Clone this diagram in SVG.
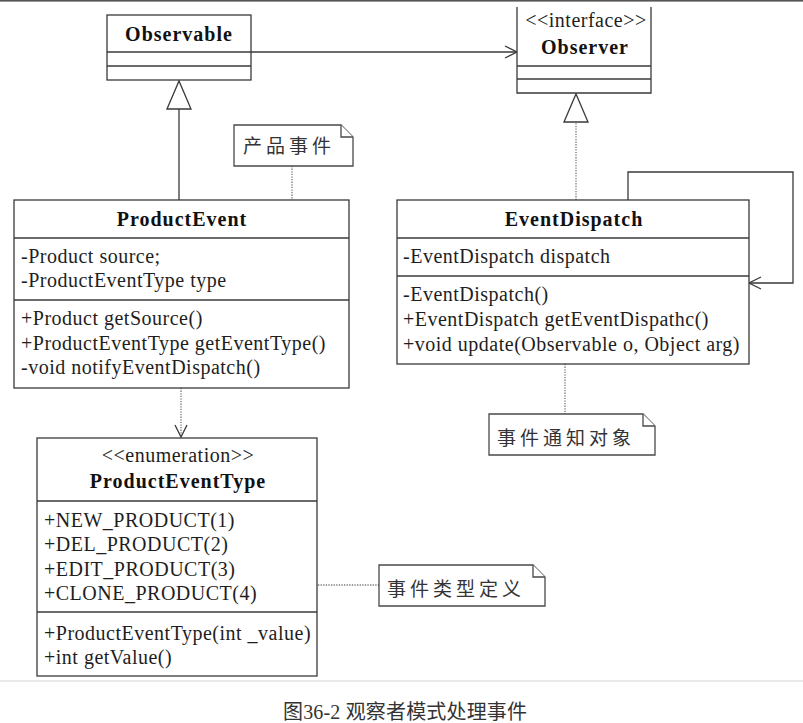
<svg xmlns="http://www.w3.org/2000/svg" width="803" height="723" viewBox="0 0 803 723">
<style>
  .box{fill:#fff;stroke:#3a3a3a;stroke-width:1.3}
  .sep{stroke:#3a3a3a;stroke-width:1.3;fill:none}
  .t{font-family:"Liberation Serif","Times New Roman",serif;font-size:20px;fill:#1e1e1e;letter-spacing:0.5px}
  .b{font-family:"Liberation Serif","Times New Roman",serif;font-size:20px;font-weight:bold;fill:#111;letter-spacing:1px;text-anchor:middle}
  .c{text-anchor:middle}
  .note{fill:#fff;stroke:#4a4a4a;stroke-width:1.3}
  .nt{font-family:"Noto Sans CJK SC","Noto Sans CJK TC",sans-serif;font-size:19px;fill:#333;letter-spacing:4px}
  .line{stroke:#3a3a3a;stroke-width:1.3;fill:none}
  .dot{stroke:#777;stroke-width:1.3;fill:none;stroke-dasharray:1.3 1.3}
</style>
<defs>
  <marker id="open" markerUnits="userSpaceOnUse" markerWidth="14" markerHeight="14" refX="12" refY="6" orient="auto" overflow="visible">
    <path d="M0,0 L12,6 L0,12" fill="none" stroke="#3a3a3a" stroke-width="1.3"/>
  </marker>
  <marker id="tri" markerUnits="userSpaceOnUse" markerWidth="30" markerHeight="26" refX="28" refY="12" orient="auto" overflow="visible">
    <path d="M0,0 L28,12 L0,24 Z" fill="#fff" stroke="#3a3a3a" stroke-width="1.3"/>
  </marker>
</defs>
<rect x="0" y="0" width="803" height="723" fill="#fff"/>
<rect x="0" y="0" width="803" height="1.6" fill="#555"/>

<g id="connectors">
  <line class="line" x1="251" y1="52" x2="517" y2="52" marker-end="url(#open)"/>
  <line class="line" x1="179" y1="200" x2="179" y2="81" marker-end="url(#tri)"/>
  <line class="dot" x1="576" y1="200" x2="576" y2="94" marker-end="url(#tri)"/>
  <polyline class="line" points="628,200 628,172 793,172 793,283 749,283" marker-end="url(#open)"/>
  <line class="dot" x1="181" y1="388" x2="181" y2="437" marker-end="url(#open)"/>
  <line class="dot" x1="292" y1="166" x2="292" y2="200"/>
  <line class="dot" x1="565" y1="364" x2="565" y2="414"/>
  <line class="dot" x1="318" y1="585" x2="379" y2="585"/>
</g>

<g id="Observable">
  <rect class="box" x="107" y="15" width="144" height="65"/>
  <line class="sep" x1="107" y1="52" x2="251" y2="52"/>
  <line class="sep" x1="107" y1="66" x2="251" y2="66"/>
  <text class="b" x="179" y="41">Observable</text>
</g>

<g id="Observer">
  <path class="box" d="M517,7 V93 H651 V7"/>
  <line class="sep" x1="517" y1="66" x2="651" y2="66"/>
  <line class="sep" x1="517" y1="79" x2="651" y2="79"/>
  <text class="t c" x="586" y="27">&lt;&lt;interface&gt;&gt;</text>
  <text class="b" x="585" y="54">Observer</text>
</g>

<g id="ProductEvent">
  <rect class="box" x="14" y="200" width="335" height="188"/>
  <line class="sep" x1="14" y1="238" x2="349" y2="238"/>
  <line class="sep" x1="14" y1="300" x2="349" y2="300"/>
  <text class="b" x="182" y="226">ProductEvent</text>
  <text class="t" x="21" y="263">-Product source;</text>
  <text class="t" x="21" y="287">-ProductEventType type</text>
  <text class="t" x="21" y="325">+Product getSource()</text>
  <text class="t" x="21" y="350">+ProductEventType getEventType()</text>
  <text class="t" x="21" y="374">-void notifyEventDispatch()</text>
</g>

<g id="EventDispatch">
  <rect class="box" x="397" y="200" width="352" height="164"/>
  <line class="sep" x1="397" y1="238" x2="749" y2="238"/>
  <line class="sep" x1="397" y1="276" x2="749" y2="276"/>
  <text class="b" x="574" y="226">EventDispatch</text>
  <text class="t" x="403" y="263">-EventDispatch dispatch</text>
  <text class="t" x="403" y="301">-EventDispatch()</text>
  <text class="t" x="403" y="326">+EventDispatch getEventDispathc()</text>
  <text class="t" x="403" y="351">+void update(Observable o, Object arg)</text>
</g>

<g id="ProductEventType">
  <rect class="box" x="37" y="438" width="280" height="238"/>
  <line class="sep" x1="37" y1="501" x2="317" y2="501"/>
  <line class="sep" x1="37" y1="612" x2="317" y2="612"/>
  <text class="t c" x="178" y="462">&lt;&lt;enumeration&gt;&gt;</text>
  <text class="b" x="178" y="488">ProductEventType</text>
  <text class="t" x="44" y="527">+NEW_PRODUCT(1)</text>
  <text class="t" x="44" y="551">+DEL_PRODUCT(2)</text>
  <text class="t" x="44" y="576">+EDIT_PRODUCT(3)</text>
  <text class="t" x="44" y="600">+CLONE_PRODUCT(4)</text>
  <text class="t" x="44" y="640">+ProductEventType(int _value)</text>
  <text class="t" x="44" y="664">+int getValue()</text>
</g>

<g id="note-product">
  <path class="note" d="M234,125 H341 L353,137 V166 H234 Z"/>
  <path class="note" d="M341,125 V137 H353" fill="none"/>
  <text class="nt" x="243" y="153">产品事件</text>
</g>

<g id="note-dispatch">
  <path class="note" d="M489,414 H643 L655,426 V455 H489 Z"/>
  <path class="note" d="M643,414 V426 H655" fill="none"/>
  <text class="nt" x="497" y="445">事件通知对象</text>
</g>

<g id="note-type">
  <path class="note" d="M379,565 H533 L545,577 V606 H379 Z"/>
  <path class="note" d="M533,565 V577 H545" fill="none"/>
  <text class="nt" x="387" y="596">事件类型定义</text>
</g>

<line x1="0" y1="681" x2="803" y2="681" stroke="#e2e2e2" stroke-width="1.5"/>
<text x="283" y="719" textLength="244" font-family="Liberation Serif, Noto Sans CJK SC, serif" font-size="20" fill="#333">图36-2 观察者模式处理事件</text>
</svg>
